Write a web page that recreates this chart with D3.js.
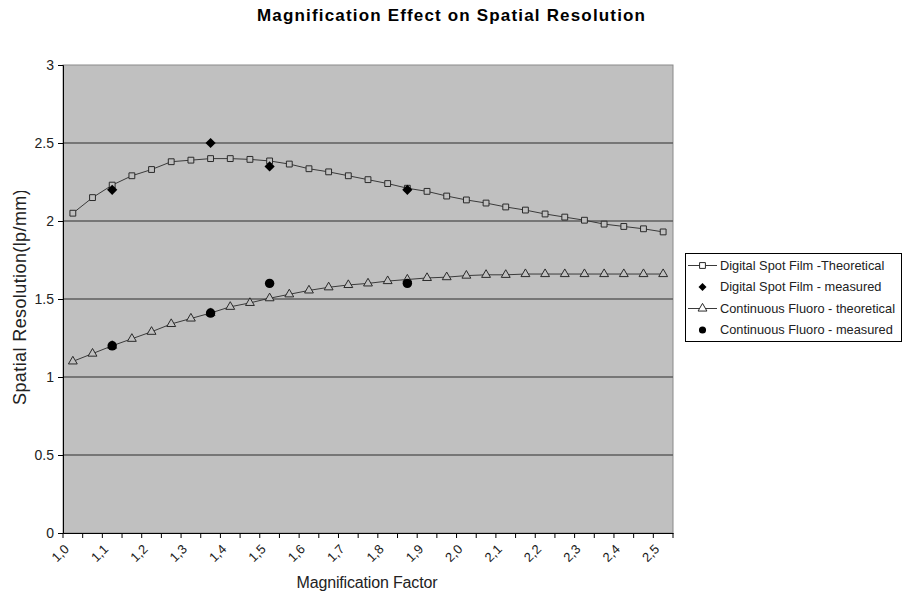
<!DOCTYPE html>
<html>
<head>
<meta charset="utf-8">
<script src="https://cdn.jsdelivr.net/npm/d3@7"></script>
<style>
  html, body { margin: 0; padding: 0; background: #ffffff; }
  svg { display: block; font-family: Arial, "Liberation Sans", sans-serif; }
</style>
</head>
<body>
<svg id="chart" width="903" height="597"></svg>
<script>
// Magnification factors (category axis)
const magnification = [1.00, 1.05, 1.10, 1.15, 1.20, 1.25, 1.30, 1.35, 1.40, 1.45,
                       1.50, 1.55, 1.60, 1.65, 1.70, 1.75, 1.80, 1.85, 1.90, 1.95,
                       2.00, 2.05, 2.10, 2.15, 2.20, 2.25, 2.30, 2.35, 2.40, 2.45, 2.50];
// Labels shown on every second category
const xTickLabels = ["1,0", "1,1", "1,2", "1,3", "1,4", "1,5", "1,6", "1,7",
                     "1,8", "1,9", "2,0", "2,1", "2,2", "2,3", "2,4", "2,5"];
const yTicks = [0, 0.5, 1, 1.5, 2, 2.5, 3];

// Theoretical curves (lp/mm)
const digitalTheoretical = [2.05, 2.15, 2.23, 2.29, 2.33, 2.38, 2.39, 2.40, 2.40, 2.395,
                            2.385, 2.365, 2.335, 2.315, 2.29, 2.265, 2.24, 2.21, 2.19, 2.16,
                            2.135, 2.115, 2.09, 2.07, 2.045, 2.025, 2.005, 1.98, 1.965, 1.95, 1.93];
const fluoroTheoretical = [1.10, 1.15, 1.20, 1.245, 1.29, 1.34, 1.375, 1.41, 1.45, 1.475,
                           1.505, 1.53, 1.555, 1.575, 1.59, 1.60, 1.615, 1.625, 1.635, 1.64,
                           1.65, 1.655, 1.655, 1.66, 1.66, 1.66, 1.66, 1.66, 1.66, 1.66, 1.66];

// Measured values
const measuredMagnification = [1.10, 1.35, 1.50, 1.85];
const digitalMeasured = [2.2, 2.5, 2.35, 2.2];
const fluoroMeasured = [1.2, 1.41, 1.6, 1.6];

const seriesNames = ["Digital Spot Film -Theoretical", "Digital Spot Film - measured",
                     "Continuous Fluoro - theoretical", "Continuous Fluoro - measured"];

const svg = d3.select("#chart");
const plot = { left: 63, right: 673, top: 65, bottom: 533 };

const x = d3.scaleBand().domain(magnification).range([plot.left, plot.right]).padding(0);
const y = d3.scaleLinear().domain([0, 3]).range([plot.bottom, plot.top]);
const cx = d => x(d) + x.bandwidth() / 2;

// Title
svg.append("text")
  .attr("x", 451).attr("y", 21)
  .attr("text-anchor", "middle")
  .attr("font-size", 17).attr("font-weight", "bold").attr("fill", "#000")
  .attr("textLength", 388).attr("lengthAdjust", "spacing")
  .text("Magnification Effect on Spatial Resolution");

// Plot area
svg.append("rect")
  .attr("x", plot.left).attr("y", plot.top)
  .attr("width", plot.right - plot.left).attr("height", plot.bottom - plot.top)
  .attr("fill", "#c0c0c0").attr("stroke", "#8a8a8a").attr("stroke-width", 1);

// Horizontal gridlines
svg.append("g").selectAll("line")
  .data(yTicks.filter(t => t > 0 && t < 3))
  .join("line")
  .attr("x1", plot.left).attr("x2", plot.right)
  .attr("y1", d => y(d)).attr("y2", d => y(d))
  .attr("stroke", "#5e5e5e").attr("stroke-width", 1.3);

// Y axis
const yAxis = svg.append("g")
  .attr("transform", `translate(${plot.left},0)`)
  .call(d3.axisLeft(y).tickValues(yTicks).tickSize(5).tickPadding(4).tickFormat(d3.format("")));
yAxis.select(".domain").attr("stroke", "#000");
yAxis.selectAll(".tick line").attr("stroke", "#000");
yAxis.selectAll(".tick text")
  .attr("font-size", 14).attr("fill", "#222").attr("font-family", "Arial, 'Liberation Sans', sans-serif");

// X axis: labels on every second category, ticks between categories
const xAxis = svg.append("g")
  .attr("transform", `translate(0,${plot.bottom})`)
  .call(d3.axisBottom(x)
    .tickValues(magnification.filter((d, i) => i % 2 === 0))
    .tickFormat((d, i) => xTickLabels[i])
    .tickSize(0));
xAxis.select(".domain").attr("stroke", "#000");
xAxis.selectAll(".tick text")
  .attr("font-size", 13).attr("fill", "#1a1a1a").attr("font-family", "Arial, 'Liberation Sans', sans-serif")
  .attr("text-anchor", "end")
  .attr("dy", null).attr("y", null)
  .attr("transform", "translate(-3,17) rotate(-45)");

const boundaries = magnification.map(d => x(d)).concat([x.range()[1]]);
svg.append("g").selectAll("line")
  .data(boundaries)
  .join("line")
  .attr("x1", d => d).attr("x2", d => d)
  .attr("y1", plot.bottom).attr("y2", plot.bottom + 5)
  .attr("stroke", "#000");

// Axis titles
svg.append("text")
  .attr("x", 367).attr("y", 588)
  .attr("text-anchor", "middle")
  .attr("font-size", 16).attr("fill", "#222")
  .attr("textLength", 141).attr("lengthAdjust", "spacing")
  .text("Magnification Factor");

svg.append("defs").append("clipPath").attr("id", "ytitle-clip")
  .append("rect").attr("x", 0).attr("y", 191).attr("width", 60).attr("height", 300);
svg.append("g")
  .attr("clip-path", "url(#ytitle-clip)")
  .append("text")
  .attr("transform", "translate(26,405) rotate(-90)")
  .attr("text-anchor", "start")
  .attr("font-size", 18).attr("fill", "#222")
  .attr("letter-spacing", 0.4)
  .text("Spatial Resolution(lp/mm)");

// Series
const lineColor = "#3a3a3a";
const line = d3.line().x(d => cx(d[0])).y(d => y(d[1]));

const digitalPts = magnification.map((m, i) => [m, digitalTheoretical[i]]);
const fluoroPts = magnification.map((m, i) => [m, fluoroTheoretical[i]]);

svg.append("path").datum(digitalPts).attr("d", line)
  .attr("fill", "none").attr("stroke", lineColor).attr("stroke-width", 1);
svg.append("path").datum(fluoroPts).attr("d", line)
  .attr("fill", "none").attr("stroke", lineColor).attr("stroke-width", 1);

const squareSym = d3.symbol().type(d3.symbolSquare).size(34);
const triSym = d3.symbol().type(d3.symbolTriangle).size(34);
const diamondSym = d3.symbol().type(d3.symbolSquare).size(52);
const circleSym = d3.symbol().type(d3.symbolCircle).size(70);

svg.append("g").selectAll("path").data(digitalPts).join("path")
  .attr("d", squareSym)
  .attr("transform", d => `translate(${cx(d[0])},${y(d[1])})`)
  .attr("fill", "#c0c0c0").attr("stroke", "#2a2a2a").attr("stroke-width", 1);

svg.append("g").selectAll("path").data(fluoroPts).join("path")
  .attr("d", triSym)
  .attr("transform", d => `translate(${cx(d[0])},${y(d[1])})`)
  .attr("fill", "#c0c0c0").attr("stroke", "#2a2a2a").attr("stroke-width", 1);

svg.append("g").selectAll("path").data(measuredMagnification).join("path")
  .attr("d", diamondSym)
  .attr("transform", (d, i) => `translate(${cx(d)},${y(digitalMeasured[i])}) rotate(45)`)
  .attr("fill", "#000");

svg.append("g").selectAll("path").data(measuredMagnification).join("path")
  .attr("d", circleSym)
  .attr("transform", (d, i) => `translate(${cx(d)},${y(fluoroMeasured[i])})`)
  .attr("fill", "#000");

// Legend
const legend = svg.append("g");
legend.append("rect")
  .attr("x", 685.5).attr("y", 253.5).attr("width", 216).attr("height", 88)
  .attr("fill", "#fff").attr("stroke", "#000").attr("stroke-width", 1);

const legendRows = [
  { name: seriesNames[0], line: true, sym: squareSym, fill: "#fff", stroke: "#2a2a2a", rot: 0 },
  { name: seriesNames[1], line: false, sym: d3.symbol().type(d3.symbolSquare).size(32), fill: "#000", stroke: "none", rot: 45 },
  { name: seriesNames[2], line: true, sym: triSym, fill: "#fff", stroke: "#2a2a2a", rot: 0 },
  { name: seriesNames[3], line: false, sym: d3.symbol().type(d3.symbolCircle).size(40), fill: "#000", stroke: "none", rot: 0 }
];
const rowY = d3.scalePoint().domain(d3.range(legendRows.length)).range([265.5, 330]);

const rows = legend.selectAll("g.row").data(legendRows).join("g")
  .attr("class", "row")
  .attr("transform", (d, i) => `translate(0,${rowY(i)})`);
rows.filter(d => d.line).append("line")
  .attr("x1", 688).attr("x2", 717).attr("y1", 0).attr("y2", 0)
  .attr("stroke", lineColor).attr("stroke-width", 1);
rows.append("path")
  .attr("d", d => d.sym())
  .attr("transform", d => `translate(702.5,0) rotate(${d.rot})`)
  .attr("fill", d => d.fill).attr("stroke", d => d.stroke).attr("stroke-width", 1);
rows.append("text")
  .attr("x", 720).attr("y", 0).attr("dy", "0.35em")
  .attr("font-size", 12.8).attr("fill", "#222")
  .text(d => d.name);
</script>
</body>
</html>
